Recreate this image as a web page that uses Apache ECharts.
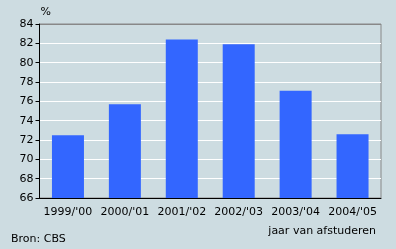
<!DOCTYPE html>
<html><head><meta charset="utf-8">
<script src="https://cdn.jsdelivr.net/npm/echarts@6/dist/echarts.min.js"></script>
<style>html,body{margin:0;padding:0;background:#cddce1}#c{width:396px;height:249px}</style>
</head><body><div id="c"></div>
<script>
var categories = ["1999/'00", "2000/'01", "2001/'02", "2002/'03", "2003/'04", "2004/'05"];
var values = [72.5, 75.7, 82.4, 81.9, 77.1, 72.6];
var yTicks = {min: 66, max: 84, interval: 2};
var fontFam = 'DejaVu Sans';
var chart = echarts.init(document.getElementById('c'), null, {renderer: 'canvas'});
var splitColors = [];
for (var v = yTicks.min; v <= yTicks.max; v += yTicks.interval) splitColors.push(v === yTicks.max ? '#888888' : '#ffffff');
chart.setOption({
  backgroundColor: '#cddce1',
  animation: false,
  textStyle: {fontFamily: fontFam},
  title: [
    {text: 'jaar van afstuderen', right: 15, top: 221, textStyle: {fontFamily: fontFam, fontSize: 11, fontWeight: 'normal', color: '#000'}},
    {text: 'Bron: CBS', left: 6, top: 229, textStyle: {fontFamily: fontFam, fontSize: 11, fontWeight: 'normal', color: '#000'}}
  ],
  grid: {left: 39.5, right: 15, top: 24, bottom: 51, show: true, borderColor: '#888888', borderWidth: 1, backgroundColor: 'transparent'},
  xAxis: {
    type: 'category', data: categories,
    axisLine: {lineStyle: {color: '#000', width: 1}},
    axisTick: {show: false},
    axisLabel: {color: '#000', fontSize: 11, margin: 9, fontFamily: fontFam, interval: 0}
  },
  yAxis: {
    type: 'value', min: yTicks.min, max: yTicks.max, interval: yTicks.interval,
    name: '%', nameLocation: 'end', nameGap: 6,
    nameTextStyle: {color: '#000', fontSize: 11, align: 'left', fontFamily: fontFam, padding: [0, 0, 0, 1]},
    axisLine: {show: true, lineStyle: {color: '#000', width: 1}},
    axisTick: {show: true, length: 4, lineStyle: {color: '#000'}},
    axisLabel: {color: '#000', fontSize: 11, margin: 6, fontFamily: fontFam},
    splitLine: {show: true, lineStyle: {color: splitColors, width: 1}}
  },
  series: [{
    type: 'bar', data: values, barWidth: 32,
    itemStyle: {color: '#3366ff'}
  }]
});
</script></body></html>
